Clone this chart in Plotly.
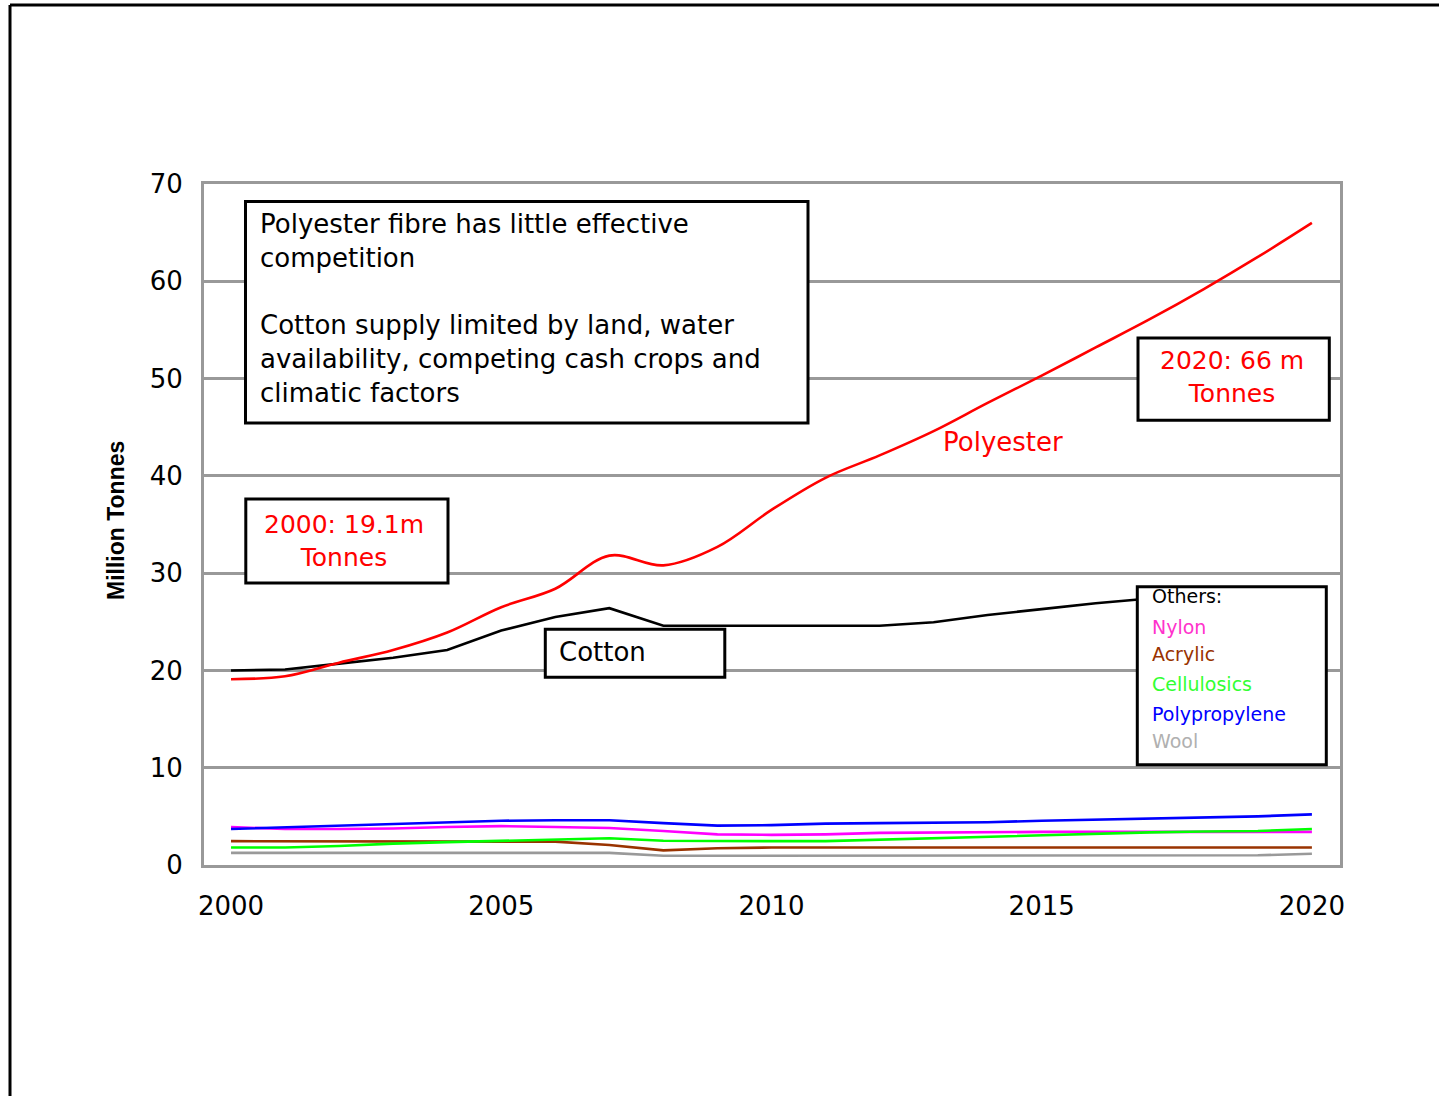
import plotly.graph_objects as go

# ---- data (million tonnes per year) ----
years = list(range(2000, 2021))

polyester = [19.1, 19.4, 20.8, 22.1, 23.9, 26.5, 28.4, 31.8, 30.8, 32.7, 36.5,
             39.8, 42.1, 44.6, 47.5, 50.3, 53.2, 56.1, 59.2, 62.5, 66.0]
cotton = [20.0, 20.1, 20.7, 21.3, 22.1, 24.1, 25.5, 26.4, 24.6, 24.6, 24.6,
          24.6, 24.6, 24.95, 25.7, 26.3, 26.9, 27.4, 27.8, 28.2, 28.5]
nylon = [3.9, 3.7, 3.7, 3.75, 3.9, 4.0, 3.9, 3.8, 3.5, 3.15, 3.1,
         3.15, 3.3, 3.35, 3.35, 3.4, 3.4, 3.4, 3.4, 3.4, 3.4]
acrylic = [2.45, 2.45, 2.45, 2.45, 2.45, 2.45, 2.4, 2.05, 1.5, 1.72, 1.8,
           1.8, 1.8, 1.8, 1.8, 1.8, 1.8, 1.8, 1.8, 1.8, 1.8]
cellulosics = [1.8, 1.8, 1.95, 2.2, 2.35, 2.5, 2.62, 2.75, 2.5, 2.45, 2.45,
               2.45, 2.6, 2.8, 2.95, 3.1, 3.25, 3.35, 3.45, 3.5, 3.7]
polypropylene = [3.7, 3.87, 4.05, 4.25, 4.4, 4.55, 4.6, 4.6, 4.3, 4.05, 4.1,
                 4.25, 4.3, 4.35, 4.4, 4.55, 4.65, 4.8, 4.9, 5.0, 5.2]
wool = [1.25, 1.25, 1.25, 1.25, 1.25, 1.25, 1.25, 1.25, 0.95, 0.95, 0.95,
        0.95, 0.95, 0.95, 0.95, 0.95, 0.95, 0.95, 0.95, 1.0, 1.15]

x_ticks = [2000, 2005, 2010, 2015, 2020]
y_ticks = [0, 10, 20, 30, 40, 50, 60, 70]

FONT = "DejaVu Sans"

# ---- page geometry helpers ----
W, H = 1439, 1096
ML, MR, MT, MB = 204, 99, 184, 231
PW, PH = W - ML - MR, H - MT - MB


def px(x):
    return (x - ML) / PW


def py(y):
    return (H - MB - y) / PH


fig = go.Figure()

minor = [
    ("Wool", wool, "#999999"),
    ("Acrylic", acrylic, "#993300"),
    ("Nylon", nylon, "#FF00FF"),
    ("Polypropylene", polypropylene, "#0000FF"),
    ("Cellulosics", cellulosics, "#00FF00"),
]
for name, vals, col in minor:
    fig.add_trace(go.Scatter(x=years, y=vals, name=name, mode="lines",
                             line=dict(color=col, width=2.6)))

fig.add_trace(go.Scatter(x=years, y=cotton, name="Cotton", mode="lines",
                         line=dict(color="#000000", width=2.6)))
fig.add_trace(go.Scatter(x=years, y=polyester, name="Polyester", mode="lines",
                         line=dict(color="#FF0000", width=2.6, shape="spline",
                                   smoothing=1.0)))

# ---- boxes (pixel edges converted to paper coords) ----
boxes = [
    (245.5, 201.5, 808, 423),     # commentary box
    (245.8, 499, 448, 583),       # 2000 callout
    (545.3, 629.3, 724.8, 677.3), # Cotton label
    (1138, 338, 1329.3, 420.3),   # 2020 callout
    (1137.3, 586.8, 1326.3, 764.7),  # Others legend
]
shapes = []
for x0, y0, x1, y1 in boxes:
    shapes.append(dict(type="rect", xref="paper", yref="paper",
                       x0=px(x0), x1=px(x1), y0=py(y1), y1=py(y0),
                       line=dict(color="black", width=3),
                       fillcolor="white", layer="above"))
# outer frame
shapes.append(dict(type="line", xref="paper", yref="paper",
                   x0=px(10), x1=px(1460), y0=py(5), y1=py(5),
                   line=dict(color="black", width=3)))
shapes.append(dict(type="line", xref="paper", yref="paper",
                   x0=px(10), x1=px(10), y0=py(5), y1=py(1120),
                   line=dict(color="black", width=3)))

ann = []


def label(text, x, y, color="black", size=26, xanchor="center", align="center"):
    ann.append(dict(text=text, x=px(x), y=py(y), xref="paper", yref="paper",
                    showarrow=False, xanchor=xanchor, yanchor="middle",
                    align=align, font=dict(family=FONT, size=size, color=color)))


label("Polyester fibre has little effective<br>competition<br><br>"
      "Cotton supply limited by land, water<br>availability, competing cash crops and<br>"
      "climatic factors", 258, 308, xanchor="left", align="left")
label("2000: 19.1m<br>Tonnes", 344, 541, color="#FF0000", size=25)
label("2020: 66 m<br>Tonnes", 1232, 377, color="#FF0000", size=25)
label("Polyester", 941, 442, color="#FF0000", xanchor="left")
label("Cotton", 557, 652, xanchor="left")

legend_items = [
    ("Others:", "#000000", 596),
    ("Nylon", "#FF33CC", 627),
    ("Acrylic", "#993300", 654),
    ("Cellulosics", "#33FF33", 684),
    ("Polypropylene", "#0000FF", 714),
    ("Wool", "#B0B0B0", 741),
]
for t, c, yy in legend_items:
    label(t, 1150, yy, color=c, size=19, xanchor="left")

ann.append(dict(text="<b>Million Tonnes</b>", x=px(116), y=py(521),
                xref="paper", yref="paper", showarrow=False, textangle=-90,
                xanchor="center", yanchor="middle",
                font=dict(family="Liberation Sans", size=23, color="black")))

fig.update_layout(
    width=W, height=H,
    margin=dict(l=ML, r=MR, t=MT, b=MB, pad=0),
    paper_bgcolor="white", plot_bgcolor="white",
    showlegend=False,
    shapes=shapes, annotations=ann,
    xaxis=dict(range=[1999.5, 2020.52], tickmode="array", tickvals=x_ticks,
               ticktext=[str(v) for v in x_ticks], showgrid=False,
               zeroline=False, showline=True, mirror=True,
               linecolor="#999999", linewidth=3, ticks="",
               ticklabelstandoff=16,
               tickfont=dict(family=FONT, size=26, color="black")),
    yaxis=dict(range=[0, 70], tickmode="array", tickvals=y_ticks,
               showgrid=True, gridcolor="#999999", gridwidth=3,
               zeroline=False, showline=True, mirror=True,
               linecolor="#999999", linewidth=3, ticks="",
               ticklabelstandoff=13,
               tickfont=dict(family=FONT, size=26, color="black")),
)

fig.write_html("out.html")
